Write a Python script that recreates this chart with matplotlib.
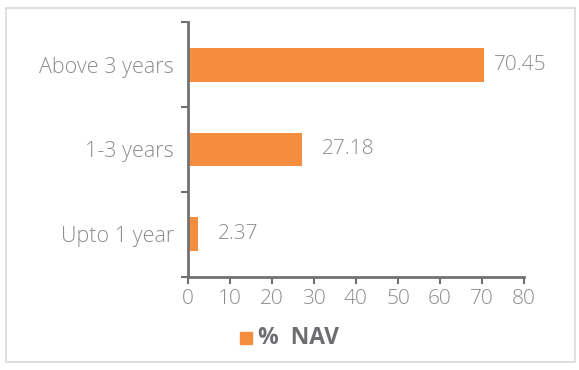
import matplotlib.pyplot as plt
from matplotlib.patches import Rectangle

categories = ['Upto 1 year', '1-3 years', 'Above 3 years']
nav = [2.37, 27.18, 70.45]
value_labels = ['2.37', '27.18', '70.45']
series_name = '%  NAV'

orange = '#F58D3E'
axis_grey = '#717174'
text_grey = '#8C8C8F'

plt.rcParams['font.family'] = ['Open Sans', 'DejaVu Sans']
plt.rcParams['font.weight'] = 'light'

fig = plt.figure(figsize=(5.79, 3.70), dpi=100)
ax = fig.add_axes([0.3247, 0.2514, 0.5803, 0.6891])

ax.barh(range(len(categories)), nav, height=0.4, color=orange, label=series_name)

# value labels to the right of each bar
offsets = [14, 14, 7]
for i, (v, lab) in enumerate(zip(nav, value_labels)):
    ax.annotate(lab, (v, i), xytext=(offsets[i], 0), textcoords='offset points',
                va='center', ha='left', fontsize=15, color=text_grey)

ax.set_xlim(0, 80)
ax.set_ylim(-0.5, 2.5)
ax.set_xticks(range(0, 81, 10))
ax.set_yticks([-0.5, 0.5, 1.5, 2.5])
ax.set_yticklabels([])
ax.set_yticks(range(len(categories)), minor=True)
ax.set_yticklabels(categories, minor=True)

for s in ['top', 'right']:
    ax.spines[s].set_visible(False)
for s in ['left', 'bottom']:
    ax.spines[s].set_color(axis_grey)
    ax.spines[s].set_linewidth(2)

ax.tick_params(axis='x', which='major', direction='out', length=5, width=1.5,
               color=axis_grey, labelcolor=text_grey, labelsize=15, pad=4)
ax.tick_params(axis='y', which='major', direction='out', length=5, width=1.5,
               color=axis_grey)
ax.tick_params(axis='y', which='minor', length=0, labelcolor=text_grey,
               labelsize=15.5, pad=10)

# legend below the axis
fig.patches.append(Rectangle((240 / 579, 1 - 344 / 370), 12 / 579, 12 / 370,
                             transform=fig.transFigure, color=orange))
fig.text(258 / 579, 1 - 338 / 370, series_name, color='#6D6E71', fontsize=16.5,
         fontweight='bold', ha='left', va='center')

# outer border
fig.patches.append(Rectangle((6 / 579, 8 / 370), 569 / 579, 354 / 370,
                             transform=fig.transFigure, fill=False,
                             edgecolor='#D9D9D9', linewidth=1.2))

fig.savefig('out.png', dpi=100)
